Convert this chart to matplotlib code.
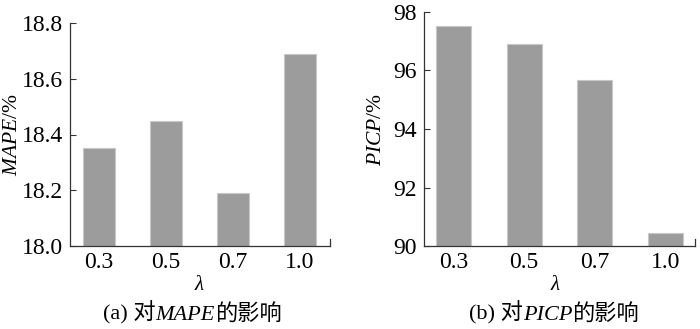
import matplotlib
matplotlib.use("Agg")
import matplotlib.pyplot as plt
from matplotlib.offsetbox import TextArea, HPacker, AnchoredOffsetbox

# ── 数据 ─────────────────────────────────────────────
lambdas   = ["0.3", "0.5", "0.7", "1.0"]
mape_vals = [18.35, 18.45, 18.19, 18.69]
picp_vals = [97.52, 96.90, 95.66, 90.45]

mape_ticks = [18.0, 18.2, 18.4, 18.6, 18.8]
picp_ticks = [90, 92, 94, 96, 98]

# ── 字体 ─────────────────────────────────────────────
FAMILY = ["Liberation Serif", "Noto Sans CJK SC"]
plt.rcParams.update({
    "font.family": FAMILY,
    "mathtext.fontset": "custom",
    "mathtext.rm": "Liberation Serif",
    "mathtext.it": "Liberation Serif:italic",
    "mathtext.bf": "Liberation Serif:bold",
    "font.size": 17,
})

BAR_COLOR = "#9c9c9c"
EDGE_COLOR = "#c8c8c8"
AX_COLOR = "#333333"

fig = plt.figure(figsize=(7, 3.29), dpi=100)
ax1 = fig.add_axes([70 / 700, 83 / 329, 260 / 700, 223 / 329])
ax2 = fig.add_axes([424 / 700, 83 / 329, 271 / 700, 234 / 329])


def style_axis(ax, vals, ticks, width, xlim, ylabel, label_x):
    x = list(range(len(vals)))
    ax.bar(x, [v - ticks[0] for v in vals], bottom=ticks[0], width=width,
           color=BAR_COLOR, edgecolor=EDGE_COLOR, linewidth=0.8)
    ax.set_xlim(*xlim)
    ax.set_ylim(ticks[0], ticks[-1])
    ax.set_yticks(ticks)
    ax.set_yticklabels([f"{t:.1f}" if isinstance(t, float) else str(t) for t in ticks])
    ax.set_xticks(x)
    ax.set_xticklabels(lambdas)
    ax.tick_params(axis="y", direction="in", length=4, width=0.8, color=AX_COLOR, pad=5)
    ax.tick_params(axis="x", length=0, pad=4)
    ax.spines["top"].set_visible(False)
    for s in ["left", "bottom", "right"]:
        ax.spines[s].set_color(AX_COLOR)
        ax.spines[s].set_linewidth(0.9)
    # 右端小刻度
    span = ticks[-1] - ticks[0]
    ax.spines["right"].set_bounds(ticks[0], ticks[0] + span * 0.03)
    ax.set_ylabel(ylabel, fontsize=15.5)
    ax.yaxis.set_label_coords(label_x, 0.5)


style_axis(ax1, mape_vals, mape_ticks, 0.48, (-0.43, 3.45), r"$\mathit{MAPE}$/%", (22 - 70) / 260)
style_axis(ax2, picp_vals, picp_ticks, 0.5, (-0.42, 3.42), r"$\mathit{PICP}$/%", (386 - 424) / 271)

fig.text(200 / 700, 1 - 285 / 329, r"$\lambda$", ha="center", va="center", fontsize=15)
fig.text(556 / 700, 1 - 285 / 329, r"$\lambda$", ha="center", va="center", fontsize=15)


def caption(prefix, name, x, y):
    parts = [
        TextArea(prefix, textprops=dict(family=FAMILY, fontsize=16)),
        TextArea(name, textprops=dict(family=FAMILY, fontsize=16, style="italic")),
        TextArea("的影响", textprops=dict(family=FAMILY, fontsize=16)),
    ]
    box = HPacker(children=parts, align="baseline", pad=0, sep=0)
    anchored = AnchoredOffsetbox(loc="center", child=box, pad=0, frameon=False,
                                 bbox_to_anchor=(x, y), bbox_transform=fig.transFigure,
                                 borderpad=0)
    fig.add_artist(anchored)


caption("(a) 对", "MAPE", 192 / 700, 1 - 313 / 329)
caption("(b) 对", "PICP", 554 / 700, 1 - 313 / 329)

fig.savefig("out.png", dpi=100)
